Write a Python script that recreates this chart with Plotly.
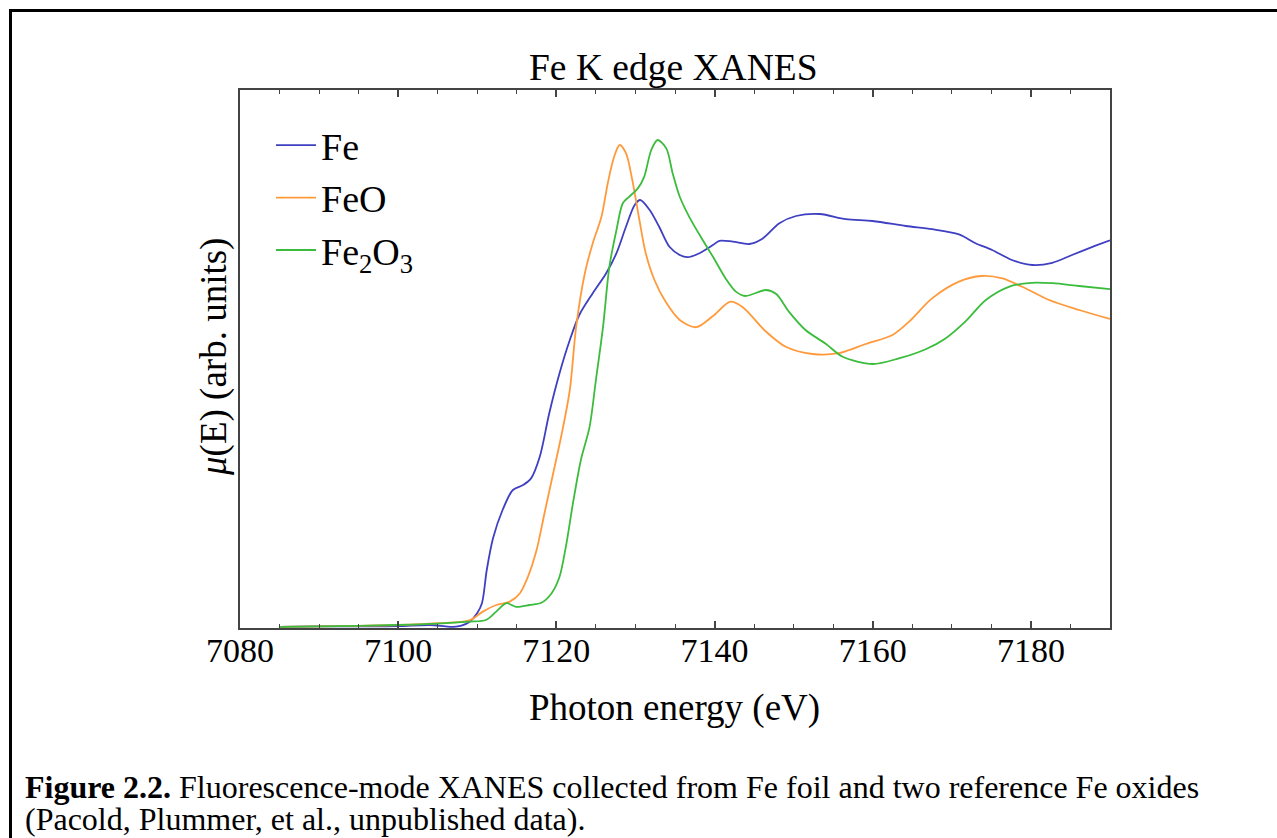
import plotly.graph_objects as go

# Fe K-edge XANES spectra (photon energy in eV, mu(E) in arbitrary units)
energy_fe = [7085, 7090, 7095, 7100, 7104, 7106, 7107, 7108, 7109, 7110, 7110.6,
             7111.2, 7112.0, 7113.2, 7114.5, 7115.8, 7116.8, 7117.9, 7119.1, 7120.4,
             7121.7, 7122.9, 7124.6, 7126.3, 7127.6, 7128.8, 7129.9, 7130.6, 7131.8,
             7133.0, 7134.3, 7135.6, 7136.6, 7138.1, 7139.8, 7140.6, 7142.3, 7144.4,
             7146.1, 7148.2, 7150.3, 7153.3, 7156.6, 7160.0, 7164.2, 7167.5, 7170.9,
             7173.0, 7175.1, 7177.6, 7180.2, 7182.7, 7185.2, 7187.7, 7190]
mu_fe = [0.003, 0.004, 0.004, 0.0045, 0.0075, 0.004, 0.003, 0.006, 0.015, 0.0375, 0.0625,
         0.145, 0.225, 0.295, 0.345, 0.3575, 0.374, 0.428, 0.537, 0.637,
         0.72, 0.7825, 0.837, 0.887, 0.937, 1.003, 1.0575, 1.07, 1.045,
         1.003, 0.953, 0.9325, 0.927, 0.937, 0.9575, 0.968, 0.966, 0.96,
         0.974, 1.012, 1.03, 1.035, 1.022, 1.0175, 1.005, 0.997, 0.984,
         0.962, 0.945, 0.92, 0.9075, 0.913, 0.9325, 0.952, 0.969]

energy_feo = [7085, 7090, 7095, 7100, 7105, 7109, 7110.7, 7112.4, 7114.1, 7115.4, 7116.4,
              7117.5, 7118.5, 7119.6, 7120.6, 7121.7, 7122.5, 7123.6, 7124.6, 7125.7,
              7126.5, 7127.3, 7128.0, 7128.8, 7129.6, 7130.5, 7131.3, 7132.4, 7133.8,
              7135.6, 7137.7, 7139.8, 7142.0, 7143.5, 7146.5, 7149.0, 7152.4, 7155.7,
              7159.1, 7162.5, 7164.6, 7167.5, 7170.9, 7173.8, 7176.4, 7178.9, 7182.3,
              7186.1, 7190]
mu_feo = [0.003, 0.004, 0.0055, 0.0075, 0.012, 0.019, 0.041, 0.0575, 0.066, 0.087, 0.128,
          0.195, 0.287, 0.387, 0.478, 0.595, 0.753, 0.887, 0.962, 1.028,
          1.112, 1.178, 1.2075, 1.187, 1.12, 1.02, 0.937, 0.87, 0.816,
          0.77, 0.752, 0.78, 0.816, 0.803, 0.741, 0.703, 0.685, 0.687,
          0.71, 0.7325, 0.766, 0.824, 0.866, 0.88, 0.874, 0.853, 0.82,
          0.795, 0.7725]

energy_fe2o3 = [7085, 7090, 7095, 7100, 7105, 7109, 7111.1, 7112.4, 7113.7, 7114.9, 7116.6,
                7118.1, 7119.4, 7120.4, 7121.2, 7122.1, 7123.1, 7124.2, 7125.0, 7125.9,
                7126.7, 7127.6, 7128.4, 7129.2, 7130.3, 7131.1, 7132.0, 7132.8, 7133.9,
                7134.7, 7135.6, 7136.8, 7138.5, 7139.8, 7141.4, 7142.7, 7143.9, 7146.5,
                7147.8, 7149.4, 7151.5, 7154.1, 7156.2, 7160.0, 7163.3, 7166.7, 7169.2,
                7171.7, 7174.3, 7177.2, 7180.1, 7182.7, 7186.1, 7190]
mu_fe2o3 = [0.003, 0.004, 0.0055, 0.0075, 0.011, 0.016, 0.02, 0.041, 0.062, 0.053, 0.0575,
            0.063, 0.087, 0.128, 0.203, 0.312, 0.42, 0.503, 0.62, 0.753,
            0.903, 0.995, 1.062, 1.078, 1.099, 1.128, 1.195, 1.22, 1.199,
            1.137, 1.078, 1.028, 0.97, 0.928, 0.874, 0.841, 0.83, 0.845,
            0.835, 0.791, 0.745, 0.71, 0.678, 0.66, 0.674, 0.697, 0.724,
            0.766, 0.82, 0.853, 0.863, 0.862, 0.855, 0.847]

x_ticks = [7080, 7100, 7120, 7140, 7160, 7180]

SERIF = "Liberation Serif, Times New Roman, serif"
AXIS_COLOR = "#444444"

# plot box geometry in pixels (figure 1277 x 838)
W, H = 1277, 838
PL, PR, PT, PB = 240, 1110, 90, 628


def px(x):
    return (x - PL) / (PR - PL)


def py(y):
    return (PB - y) / (PB - PT)


fig = go.Figure()
series = [
    ("Fe", energy_fe, mu_fe, "#3f3fc2"),
    ("FeO", energy_feo, mu_feo, "#ff9a3c"),
    ("Fe<sub>2</sub>O<sub>3</sub>", energy_fe2o3, mu_fe2o3, "#3cbc3c"),
]
for name, xs, ys, color in series:
    fig.add_trace(go.Scatter(
        x=xs, y=ys, name=name, mode="lines",
        line=dict(color=color, width=1.8, shape="spline", smoothing=0.85),
    ))

fig.update_layout(
    width=W, height=H,
    margin=dict(l=PL, r=W - PR, t=PT, b=H - PB),
    paper_bgcolor="white", plot_bgcolor="white",
    font=dict(family=SERIF, color="black"),
    showlegend=True,
    legend=dict(
        x=px(271), y=py(114), xanchor="left", yanchor="top",
        bgcolor="rgba(0,0,0,0)", borderwidth=0, itemwidth=40,
        font=dict(family=SERIF, size=38, color="black"),
    ),
    xaxis=dict(
        range=[7080, 7190], tickvals=x_ticks,
        ticks="inside", ticklen=7, tickwidth=1.5, tickcolor=AXIS_COLOR,
        minor=dict(dtick=5, tick0=7080, ticks="inside", ticklen=4,
                   tickwidth=1.2, tickcolor=AXIS_COLOR, showgrid=False),
        showline=True, linecolor=AXIS_COLOR, linewidth=1.5, mirror="ticks",
        showgrid=False, zeroline=False, ticklabelstandoff=-9,
        tickfont=dict(family=SERIF, size=34, color="black"),
    ),
    yaxis=dict(
        range=[0, 1.345], showticklabels=False, ticks="",
        showline=True, linecolor=AXIS_COLOR, linewidth=1.5, mirror=True,
        showgrid=False, zeroline=False,
    ),
)

annotations = [
    dict(text="Fe K edge XANES", x=px(673), y=py(68), size=37.5),
    dict(text="Photon energy (eV)", x=px(674), y=py(708), size=37),
    dict(text="<i>μ</i>(E) (arb. units)", x=px(214), y=py(357), size=37, angle=-90),
]
for a in annotations:
    fig.add_annotation(
        text=a["text"], x=a["x"], y=a["y"], xref="paper", yref="paper",
        xanchor="center", yanchor="middle", showarrow=False,
        textangle=a.get("angle", 0),
        font=dict(family=SERIF, size=a["size"], color="black"),
    )

caption_lines = [
    ("<b>Figure 2.2.</b> Fluorescence-mode XANES collected from Fe foil and two "
     "reference Fe oxides", 787),
    ("(Pacold, Plummer, et al., unpublished data).", 819),
]
for text, ypix in caption_lines:
    fig.add_annotation(
        text=text, x=px(23), y=py(ypix), xref="paper", yref="paper",
        xanchor="left", yanchor="middle", showarrow=False,
        font=dict(family=SERIF, size=32, color="black"),
    )

# page frame around the figure and its caption
fig.add_shape(
    type="rect", xref="paper", yref="paper",
    x0=px(10.5), x1=px(1300), y0=py(870), y1=py(10.5),
    line=dict(color="black", width=3), fillcolor="rgba(0,0,0,0)",
)

fig.write_html("out.html")
